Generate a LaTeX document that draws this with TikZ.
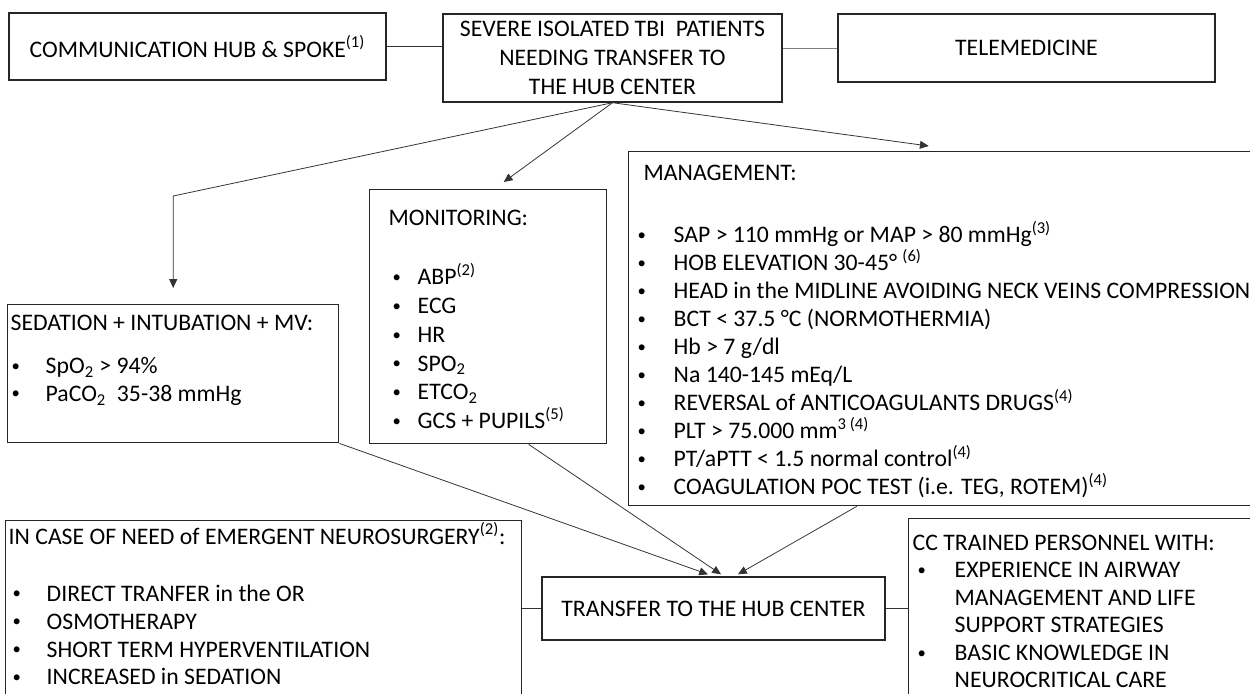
\documentclass[tikz,border=0pt]{standalone}
\usepackage{fontspec}
\setmainfont{Carlito}
\usetikzlibrary{arrows.meta}

\newlength\px \setlength\px{0.02cm}
\newlength\hdin \newlength\bulin \newlength\bulw
\newcommand{\tabs}[3]{\setlength\hdin{#1\px}\setlength\bulin{#2\px}\setlength\bulw{#3\px}}
\newcommand{\dotmark}{\raisebox{1.3pt}{\fontsize{9.5}{9.5}\selectfont\textbullet}}
\newcommand{\hd}[1]{\hspace*{\hdin}\strut#1\par}
\newcommand{\li}[1]{\hspace*{\bulin}\makebox[\bulw][l]{\dotmark}#1\par}
\newcommand{\ct}[1]{\hspace*{\bulin}\hspace*{\bulw}#1\par}
\newcommand{\listbox}[4]{\parbox[c][#2\px][t]{#1\px}{\parindent=0pt\vspace*{#3\px}#4}}

\begin{document}
\begin{tikzpicture}[x=0.02cm, y=-0.02cm,
  box/.style={draw=black!85, line width=0.8pt, inner sep=0pt, font=\fontsize{13.5}{15.93}\selectfont},
  panel/.style={box, anchor=north west},
  link/.style={draw=black!80, line width=0.45pt},
  arr/.style={link, -{Triangle[length=5pt,width=4.5pt]}}]
\useasboundingbox (0,0) rectangle (1250,693);
% Top row
    \node[box, minimum width=377\px, minimum height=67\px] (hub) at (197.5,46.5) {COMMUNICATION HUB \& SPOKE\textsuperscript{(1)}};
    \node[box, minimum width=339\px, minimum height=88\px, align=center, font=\fontsize{13.5}{16.5}\selectfont] (severe) at (612.5,58) {SEVERE ISOLATED TBI\ \ PATIENTS\\NEEDING TRANSFER TO\\THE HUB CENTER};
    \node[box, minimum width=377\px, minimum height=68\px] (tele) at (1026.5,48) {TELEMEDICINE};
% Middle row
    \node[panel] (sed) at (7,304) {\listbox{331}{138}{6}{\tabs{3}{4}{34}%
      \hd{SEDATION + INTUBATION + MV:}\vspace{15\px}%
      \li{SpO\textsubscript{2} > 94\%}%
      \li{PaCO\textsubscript{2}\ \ 35-38 mmHg}}};
    \node[panel] (mon) at (369,189) {\listbox{237}{254}{16}{\tabs{19}{23}{25}\setlength\baselineskip{28.8\px}%
      \hd{MONITORING:}\vspace{28\px}%
      \li{ABP\textsuperscript{(2)}}%
      \li{ECG}%
      \li{HR}%
      \li{SPO\textsubscript{2}}%
      \li{ETCO\textsubscript{2}}%
      \li{GCS + PUPILS\textsuperscript{(5)}}}};
    \node[panel] (mgmt) at (628,151) {\listbox{632}{354}{9}{\tabs{15}{9}{36}%
      \hd{MANAGEMENT:}\vspace{31\px}%
      \li{SAP > 110 mmHg or MAP > 80 mmHg\textsuperscript{(3)}}%
      \li{HOB ELEVATION 30-45° \textsuperscript{(6)}}%
      \li{HEAD in the MIDLINE AVOIDING NECK VEINS COMPRESSION}%
      \li{BCT < 37.5 °C (NORMOTHERMIA)}%
      \li{Hb > 7 g/dl}%
      \li{Na 140-145 mEq/L}%
      \li{REVERSAL of ANTICOAGULANTS DRUGS\textsuperscript{(4)}}%
      \li{PLT > 75.000 mm\textsuperscript{3 (4)}}%
      \li{PT/aPTT < 1.5 normal control\textsuperscript{(4)}}%
      \li{COAGULATION POC TEST (i.e. TEG, ROTEM)\textsuperscript{(4)}}}};
% Bottom row
    \node[panel] (emer) at (5,520) {\listbox{516}{200}{2}{\tabs{3}{7}{34}%
      \hd{IN CASE OF NEED of EMERGENT NEUROSURGERY\textsuperscript{(2)}:}\vspace{29\px}%
      \li{DIRECT TRANFER in the OR}%
      \li{OSMOTHERAPY}%
      \li{SHORT TERM HYPERVENTILATION}%
      \li{INCREASED in SEDATION}}};
    \node[box, minimum width=343\px, minimum height=63\px] (xfer) at (713.5,608.5) {TRANSFER TO THE HUB CENTER};
    \node[panel] (cc) at (908,518) {\listbox{360}{200}{12}{\tabs{4}{9}{37}\setlength\baselineskip{27.5\px}%
      \hd{CC TRAINED PERSONNEL WITH:}%
      \li{EXPERIENCE IN AIRWAY}%
      \ct{MANAGEMENT AND LIFE}%
      \ct{SUPPORT STRATEGIES}%
      \li{BASIC KNOWLEDGE IN}%
      \ct{NEUROCRITICAL CARE}}};
% Side links
    \draw[link] (hub.east) -- (hub.east -| severe.west);
    \draw[link, gray] (tele.west) -- (tele.west -| severe.east);
    \draw[link] (xfer.west) -- (xfer.west -| emer.east);
    \draw[link] (xfer.east) -- (xfer.east -| cc.west);
% Arrows out of the patients box
    \coordinate (bendL) at (sed.north |- 0,196);
    \draw[arr] (severe.south) -- (bendL) -- ([yshift=16\px]sed.north);
    \draw[arr] (severe.south) -- ([xshift=15.5\px,yshift=7\px]mon.north);
    \draw[arr] (severe.south) -- ([xshift=-16\px,yshift=5\px]mgmt.north);
% Arrows into the transfer box
    \draw[arr] (sed.south east) -- ([xshift=-5.5\px,yshift=2\px]xfer.north);
    \draw[arr] ([xshift=40.5\px]mon.south) -- ([xshift=7.5\px,yshift=2\px]xfer.north);
    \draw[arr] ([xshift=-88\px]mgmt.south) -- ([xshift=24.5\px,yshift=2\px]xfer.north);
\end{tikzpicture}
\end{document}
